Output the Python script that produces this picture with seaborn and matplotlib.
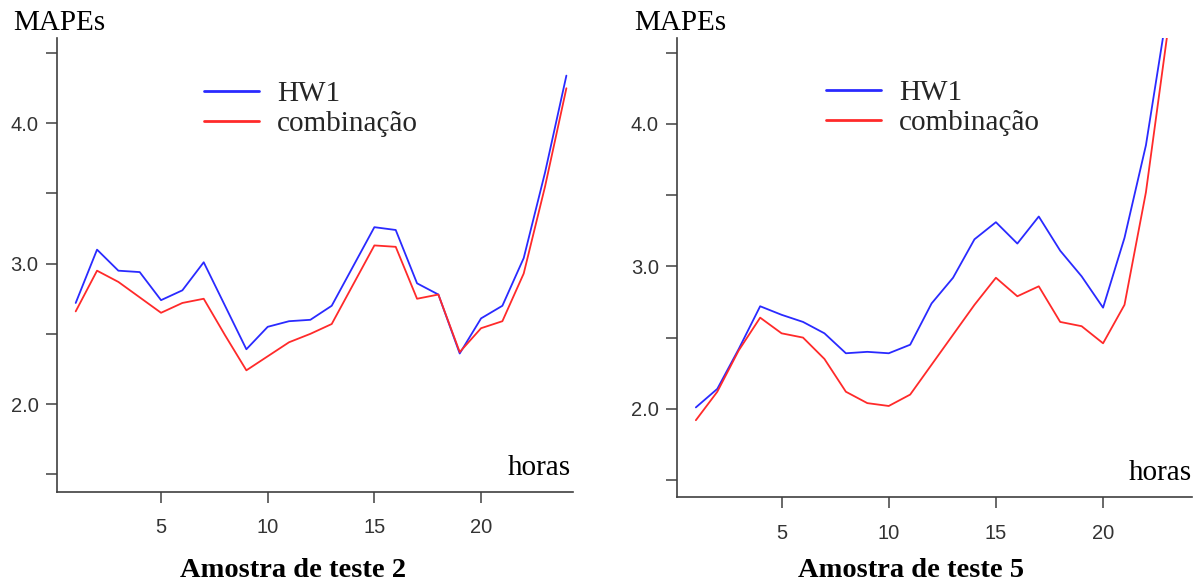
import matplotlib
matplotlib.use("Agg")
import matplotlib.pyplot as plt
import seaborn as sns
import pandas as pd

# ---- data ----
horas_a = list(range(1, 25))
hw1_a = [2.72, 3.10, 2.95, 2.94, 2.74, 2.81, 3.01, 2.70, 2.39, 2.55, 2.59, 2.60,
         2.70, 2.98, 3.26, 3.24, 2.86, 2.78, 2.36, 2.61, 2.70, 3.04, 3.65, 4.34]
comb_a = [2.66, 2.95, 2.87, 2.76, 2.65, 2.72, 2.75, 2.49, 2.24, 2.34, 2.44, 2.50,
          2.57, 2.85, 3.13, 3.12, 2.75, 2.78, 2.37, 2.54, 2.59, 2.93, 3.55, 4.25]

horas_b = list(range(1, 24))
hw1_b = [2.01, 2.14, 2.42, 2.72, 2.66, 2.61, 2.53, 2.39, 2.40, 2.39, 2.45, 2.74,
         2.92, 3.19, 3.31, 3.16, 3.35, 3.11, 2.93, 2.71, 3.20, 3.85, 4.80]
comb_b = [1.92, 2.12, 2.41, 2.64, 2.53, 2.50, 2.35, 2.12, 2.04, 2.02, 2.10, 2.31,
          2.52, 2.73, 2.92, 2.79, 2.86, 2.61, 2.58, 2.46, 2.73, 3.52, 4.63]

series_names = ["HW1", "combinação"]
titles = ["Amostra de teste 2", "Amostra de teste 5"]
y_label = "MAPEs"
x_label = "horas"
x_ticks = [5, 10, 15, 20]
y_major = [2.0, 3.0, 4.0]
y_minor = [1.5, 2.5, 3.5, 4.5]

palette = {"HW1": "#2a2aff", "combinação": "#ff2a2a"}

W, H = 1203, 583
sns.set_theme(style="white")
plt.rcParams["font.family"] = ["Liberation Serif", "DejaVu Serif"]

fig = plt.figure(figsize=(W / 100, H / 100), dpi=100)


def px_box(l, t, r, b):
    return [l / W, 1 - b / H, (r - l) / W, (b - t) / H]


panels = [
    dict(h=horas_a, hw=hw1_a, cb=comb_a, box=px_box(56.5, 38, 573, 492),
         xlim=(0.10, 24.31), ylim=(1.373, 4.608), title=titles[0],
         mx=13.5, hx=571, hy=475, tx=293, leg=(204, 81)),
    dict(h=horas_b, hw=hw1_b, cb=comb_b, box=px_box(677, 37.7, 1192, 497.3),
         xlim=(0.12, 24.15), ylim=(1.379, 4.605), title=titles[1],
         mx=633.8, hx=1192, hy=480, tx=911.5, leg=(826, 80)),
]

for p in panels:
    ax = fig.add_axes(p["box"])
    df = pd.DataFrame({
        "hora": p["h"] * 2,
        "MAPE": p["hw"] + p["cb"],
        "modelo": [series_names[0]] * len(p["h"]) + [series_names[1]] * len(p["h"]),
    })
    sns.lineplot(data=df, x="hora", y="MAPE", hue="modelo", palette=palette,
                 linewidth=1.3, ax=ax)
    ax.set_xlim(*p["xlim"])
    ax.set_ylim(*p["ylim"])
    ax.set_xlabel("")
    ax.set_ylabel("")
    for s in ["top", "right"]:
        ax.spines[s].set_visible(False)
    for s in ["left", "bottom"]:
        ax.spines[s].set_color("#404040")
        ax.spines[s].set_linewidth(1.2)
    ax.set_xticks(x_ticks)
    ax.set_xticklabels([str(v) for v in x_ticks])
    ax.set_yticks(y_major)
    ax.set_yticklabels([f"{v:.1f}" for v in y_major])
    ax.set_yticks(y_minor, minor=True)
    ax.tick_params(axis="both", which="both", direction="out", length=8,
                   width=1.1, color="#404040", left=True, bottom=True)
    ax.tick_params(axis="y", which="major", pad=5)
    ax.tick_params(axis="x", which="major", pad=11)
    for lab in ax.get_xticklabels() + ax.get_yticklabels():
        lab.set_fontfamily("Liberation Sans")
        lab.set_fontsize(14.5)
        lab.set_color("#333333")

    handles, labels = ax.get_legend_handles_labels()
    lx, ly = p["leg"]
    ax.legend(handles, labels, loc="upper left",
              bbox_to_anchor=(lx / W, 1 - ly / H), bbox_transform=fig.transFigure,
              frameon=False, fontsize=21, handlelength=1.9, handletextpad=0.6,
              labelspacing=0.12, borderpad=0, borderaxespad=0)
    for ln in ax.get_legend().get_lines():
        ln.set_linewidth(2.0)

    fig.text(p["mx"] / W, 1 - 30 / H, y_label, fontsize=21, ha="left",
             va="baseline", color="black")
    fig.text(p["hx"] / W, 1 - p["hy"] / H, x_label, fontsize=21, ha="right",
             va="baseline", color="black")
    fig.text(p["tx"] / W, 1 - 577 / H, p["title"], fontsize=20.5,
             fontweight="bold", ha="center", va="baseline", color="black")

fig.savefig("out.png", dpi=100)
